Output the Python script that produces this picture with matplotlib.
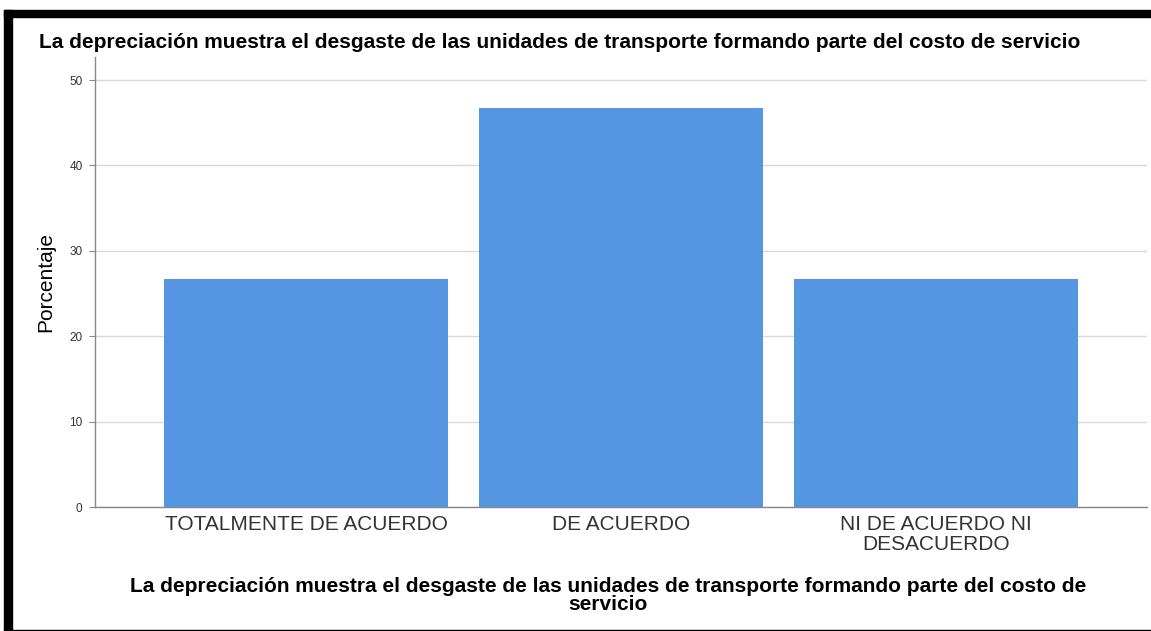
import matplotlib.pyplot as plt
import matplotlib.patches as patches

categorias = ["TOTALMENTE DE ACUERDO", "DE ACUERDO", "NI DE ACUERDO NI\nDESACUERDO"]
porcentajes = [26.7, 46.7, 26.7]
ticks_y = [0, 10, 20, 30, 40, 50]

titulo = "La depreciación muestra el desgaste de las unidades de transporte formando parte del costo de servicio"
etiqueta_x = "La depreciación muestra el desgaste de las unidades de transporte formando parte del costo de\nservicio"

plt.rcParams['font.family'] = ['Liberation Sans', 'DejaVu Sans']

fig = plt.figure(figsize=(11.51, 6.31), dpi=100)
ax = fig.add_axes([95 / 1151, 1 - 507 / 631, (1147 - 95) / 1151, (507 - 57) / 631])

x = range(len(categorias))
ax.bar(x, porcentajes, width=0.9, color='#5596e3', zorder=2)

ax.set_xlim(-0.67, 2.67)
ax.set_ylim(0, 52.7)
ax.set_yticks(ticks_y)
ax.set_yticklabels([str(t) for t in ticks_y], fontsize=8.5, color='#333333')
ax.set_xticks(list(x))
ax.set_xticklabels(categorias, fontsize=15, color='#333333', linespacing=1.05)
ax.tick_params(axis='x', length=0, pad=6)
ax.tick_params(axis='y', length=4, color='#888888', pad=5)

ax.grid(axis='y', color='#d9d9d9', linewidth=1, zorder=0)
for s in ['top', 'right']:
    ax.spines[s].set_visible(False)
for s in ['left', 'bottom']:
    ax.spines[s].set_color('#888888')
    ax.spines[s].set_linewidth(1)

ax.set_ylabel("Porcentaje", fontsize=15, labelpad=10)
ax.set_xlabel(etiqueta_x, fontsize=15, fontweight='bold', linespacing=0.95)
ax.xaxis.set_label_coords(0.488, -70 / 450, transform=ax.transAxes)
ax.xaxis.label.set_va('top')
fig.text(560 / 1151, 1 - 43 / 631, titulo, ha='center', va='center', fontsize=15, fontweight='bold')

# marco negro alrededor de la imagen
fig.patches.append(patches.Rectangle((4 / 1151, 1 - 17 / 631), 1, 7 / 631, transform=fig.transFigure,
                                     color='black', zorder=10))
fig.patches.append(patches.Rectangle((4 / 1151, 0), 8 / 1151, 1 - 10 / 631, transform=fig.transFigure,
                                     color='black', zorder=10))
fig.patches.append(patches.Rectangle((4 / 1151, 0), 1, 1.5 / 631, transform=fig.transFigure,
                                     color='black', zorder=10))

fig.savefig("out.png", dpi=100)
